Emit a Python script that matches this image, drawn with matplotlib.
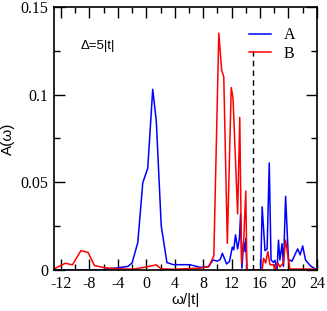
import matplotlib
matplotlib.use("Agg")
import matplotlib.pyplot as plt
from matplotlib.ticker import MultipleLocator, FixedLocator

''' Data read off the picture '''
# series A (blue)
omega_a = [-13, -6.5, -5, -4, -3, -2.6, -2.0, -1.2, -0.5, 0.2, 0.9, 1.4, 2.1, 2.9,
           3.8, 5, 6.1, 6.8, 7.6, 8.7, 9.4, 10.0, 10.4, 10.7, 11.3, 11.7, 12.1,
           12.3, 12.55, 12.85, 13.1, 13.27, 13.45, 13.7, 13.9, 14.0, 14.15, 16.1,
           16.3, 16.7, 17.0, 17.3, 17.55, 17.9, 18.1, 18.4, 18.6, 18.8, 19.1,
           19.3, 19.6, 20.0, 20.5, 20.9, 21.3, 21.65, 22.0, 22.4, 23.1, 23.8, 24]
spec_a = [0, 0, 0.0008, 0.0012, 0.0018, 0.002, 0.004, 0.0157, 0.0497, 0.058,
          0.103, 0.085, 0.025, 0.0042, 0.003, 0.003, 0.003, 0.0023, 0.0015,
          0.0017, 0.0057, 0.005, 0.006, 0.0095, 0.0034, 0.0048, 0.013, 0.0115,
          0.02, 0.012, 0.018, 0.032, 0.001, 0.016, 0.0105, 0.018, 0, 0,
          0.036, 0.011, 0.012, 0.061, 0.0057, 0.0043, 0.0055, 0, 0.017, 0.0057,
          0.015, 0.002, 0.042, 0.006, 0.005, 0.0086, 0.012, 0.0086, 0.0137,
          0.0057, 0.0023, 0.0005, 0.0003]

# series B (red)
omega_b = [-13, -11.4, -10.4, -9.2, -8.2, -7.3, -5.9, -4.2, -1.9, 0, 1.4, 2.1,
           3.8, 6.1, 7.6, 8.8, 9.5, 10.2, 10.6, 10.9, 11.4, 11.95, 12.2, 12.85,
           13.15, 13.4, 13.7, 14.0, 14.15, 16.3, 16.5, 16.8, 17.1, 17.4, 17.9,
           18.1, 18.5, 18.8, 19.3, 19.6, 20.0, 20.2, 24]
spec_b = [0.0006, 0.0038, 0.0029, 0.011, 0.010, 0.0025, 0.0013, 0.0007, 0.0004,
          0.0017, 0.0029, 0.0006, 0.0004, 0.0008, 0.001, 0.002, 0.008, 0.135,
          0.114, 0.110, 0.0152, 0.104, 0.098, 0.032, 0.087, 0.004, 0.017, 0.045,
          0, 0, 0.0067, 0.004, 0.0105, 0.003, 0.003, 0, 0.004, 0.0017, 0.004,
          0.017, 0.006, 0.0005, 0.0005]

mu = 15
mu_top = 0.127

xticks = [-12, -8, -4, 0, 4, 8, 12, 16, 20, 24]
yticks = [0, 0.05, 0.1, 0.15]
ytick_labels = ["0", "0.05", "0.1", "0.15"]

''' Plot '''
plt.rcParams["axes.unicode_minus"] = False
fig = plt.figure(figsize=(3.27, 3.11), dpi=100)
ax = fig.add_axes([0.165, 0.132, 0.804, 0.846])

ax.plot(omega_a, spec_a, color="#0000ff", lw=1.1, label="A")
ax.plot(omega_b, spec_b, color="#ff0000", lw=1.1, label="B")
ax.plot([mu, mu], [0, mu_top], color="black", lw=1.0, ls=(0, (4, 3)))

ax.set_xlim(-13, 24)
ax.set_ylim(0, 0.15)
ax.xaxis.set_major_locator(FixedLocator(xticks))
ax.xaxis.set_minor_locator(MultipleLocator(2))
ax.set_yticks(yticks)
ax.set_yticklabels(ytick_labels)
ax.yaxis.set_minor_locator(MultipleLocator(0.025))

ax.tick_params(which="both", direction="in", top=True, right=True, width=1.0)
ax.tick_params(which="major", length=8, pad=4)
ax.tick_params(which="minor", length=4)
for lab in ax.get_xticklabels() + ax.get_yticklabels():
    lab.set_family("Liberation Serif")
    lab.set_fontsize(11.5)
for sp in ax.spines.values():
    sp.set_linewidth(1.2)

ax.set_xlabel("ω/|t|", family="Liberation Sans", fontsize=11, labelpad=1)
ax.set_ylabel("A(ω)", family="Liberation Sans", fontsize=11, labelpad=4)
ax.text(-9.2, 0.126, "Δ=5|t|", family="Liberation Sans", fontsize=9.5)

leg = ax.legend(loc="upper right", frameon=False, handlelength=1.4,
                handletextpad=0.8,
                prop={"family": "Liberation Serif", "size": 11.5},
                borderaxespad=0.3, labelspacing=0.15,
                bbox_to_anchor=(0.96, 0.965))

fig.savefig("out.png", dpi=100)
